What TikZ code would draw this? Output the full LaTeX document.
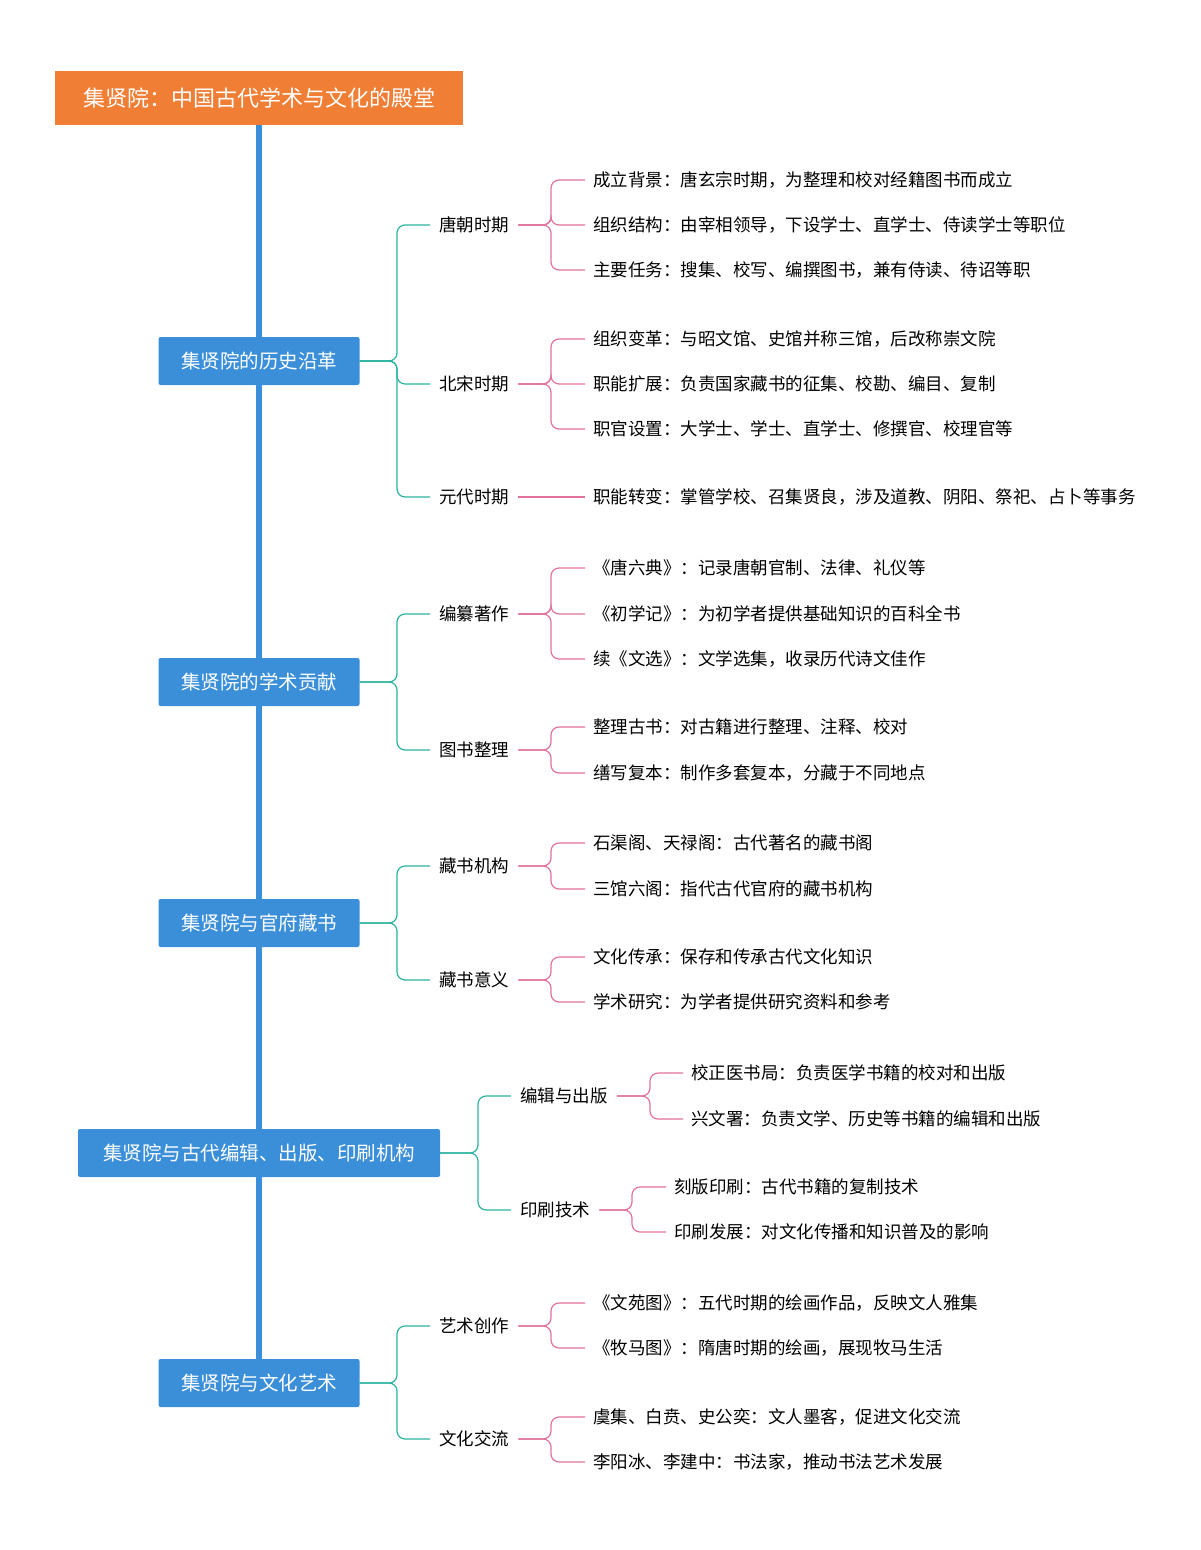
\documentclass[tikz,border=0pt]{standalone}
\usepackage{fontspec}
\setmainfont{Noto Sans CJK SC}
\definecolor{org}{HTML}{F07E35}
\definecolor{blu}{HTML}{3B8FD8}
\definecolor{tea}{HTML}{2BB3A0}
\definecolor{pnk}{HTML}{E0729C}
\tikzset{
 rootbox/.style={fill=org,text=white,minimum width=408,minimum height=54,inner sep=0,font=\fontsize{22}{26}\selectfont},
 l1box/.style={fill=blu,text=white,minimum width=201,minimum height=48,inner sep=0,rounded corners=2,font=\fontsize{19.5}{24}\selectfont},
 l2/.style={anchor=west,inner xsep=9,inner ysep=2,font=\fontsize{17.5}{21}\selectfont},
 lf/.style={anchor=west,inner xsep=8,inner ysep=2,font=\fontsize{17.5}{21}\selectfont},
 tl/.style={draw=tea,line width=1.2,rounded corners=8},
 pk/.style={draw=pnk,line width=1.2,rounded corners=8},
}
\begin{document}
\begin{tikzpicture}[x=1pt,y=-1pt]
\useasboundingbox (0,0) rectangle (1200,1550);
\draw[blu,line width=6] (259,125) -- (259,1360);
\node[rootbox] (root) at (259,98) {集贤院：中国古代学术与文化的殿堂};
\node[l1box] (b1) at (259,361) {集贤院的历史沿革};
\node[l1box] (b2) at (259,682) {集贤院的学术贡献};
\node[l1box] (b3) at (259,923) {集贤院与官府藏书};
\node[l1box,minimum width=362] (b4) at (259,1153) {集贤院与古代编辑、出版、印刷机构};
\node[l1box] (b5) at (259,1383) {集贤院与文化艺术};
\coordinate (t1) at (397,0);
\coordinate (t4) at (478,0);
\coordinate (p1) at (551,0);
\coordinate (p4a) at (650,0);
\coordinate (p4b) at (632,0);
% section 1
\node[l2] (a1) at (430,225) {唐朝时期};
\node[l2] (a2) at (430,384) {北宋时期};
\node[l2] (a3) at (430,497) {元代时期};
\node[lf] (a11) at (585,180) {成立背景：唐玄宗时期，为整理和校对经籍图书而成立};
\node[lf] (a12) at (585,225) {组织结构：由宰相领导，下设学士、直学士、侍读学士等职位};
\node[lf] (a13) at (585,270) {主要任务：搜集、校写、编撰图书，兼有侍读、待诏等职};
\node[lf] (a21) at (585,339) {组织变革：与昭文馆、史馆并称三馆，后改称崇文院};
\node[lf] (a22) at (585,384) {职能扩展：负责国家藏书的征集、校勘、编目、复制};
\node[lf] (a23) at (585,429) {职官设置：大学士、学士、直学士、修撰官、校理官等};
\node[lf] (a31) at (585,497) {职能转变：掌管学校、召集贤良，涉及道教、阴阳、祭祀、占卜等事务};
\foreach \c in {a1,a2,a3}{\draw[tl] (b1.east) -- (b1.east -| t1) |- (\c.west);}
\foreach \c in {a11,a12,a13}{\draw[pk] (a1.east) -- (a1.east -| p1) |- (\c.west);}
\foreach \c in {a21,a22,a23}{\draw[pk] (a2.east) -- (a2.east -| p1) |- (\c.west);}
\draw[pk] (a3.east) -- (a31.west);
% section 2
\node[l2] (c1) at (430,614) {编纂著作};
\node[l2] (c2) at (430,750) {图书整理};
\node[lf] (c11) at (585,568) {《唐六典》：记录唐朝官制、法律、礼仪等};
\node[lf] (c12) at (585,614) {《初学记》：为初学者提供基础知识的百科全书};
\node[lf] (c13) at (585,659) {续《文选》：文学选集，收录历代诗文佳作};
\node[lf] (c21) at (585,727) {整理古书：对古籍进行整理、注释、校对};
\node[lf] (c22) at (585,773) {缮写复本：制作多套复本，分藏于不同地点};
\foreach \c in {c1,c2}{\draw[tl] (b2.east) -- (b2.east -| t1) |- (\c.west);}
\foreach \c in {c11,c12,c13}{\draw[pk] (c1.east) -- (c1.east -| p1) |- (\c.west);}
\foreach \c in {c21,c22}{\draw[pk] (c2.east) -- (c2.east -| p1) |- (\c.west);}
% section 3
\node[l2] (d1) at (430,866) {藏书机构};
\node[l2] (d2) at (430,980) {藏书意义};
\node[lf] (d11) at (585,843) {石渠阁、天禄阁：古代著名的藏书阁};
\node[lf] (d12) at (585,889) {三馆六阁：指代古代官府的藏书机构};
\node[lf] (d21) at (585,957) {文化传承：保存和传承古代文化知识};
\node[lf] (d22) at (585,1002) {学术研究：为学者提供研究资料和参考};
\foreach \c in {d1,d2}{\draw[tl] (b3.east) -- (b3.east -| t1) |- (\c.west);}
\foreach \c in {d11,d12}{\draw[pk] (d1.east) -- (d1.east -| p1) |- (\c.west);}
\foreach \c in {d21,d22}{\draw[pk] (d2.east) -- (d2.east -| p1) |- (\c.west);}
% section 4
\node[l2] (e1) at (511,1096) {编辑与出版};
\node[l2] (e2) at (511,1210) {印刷技术};
\node[lf] (e11) at (683,1073) {校正医书局：负责医学书籍的校对和出版};
\node[lf] (e12) at (683,1119) {兴文署：负责文学、历史等书籍的编辑和出版};
\node[lf] (e21) at (666,1187) {刻版印刷：古代书籍的复制技术};
\node[lf] (e22) at (666,1232) {印刷发展：对文化传播和知识普及的影响};
\foreach \c in {e1,e2}{\draw[tl] (b4.east) -- (b4.east -| t4) |- (\c.west);}
\foreach \c in {e11,e12}{\draw[pk] (e1.east) -- (e1.east -| p4a) |- (\c.west);}
\foreach \c in {e21,e22}{\draw[pk] (e2.east) -- (e2.east -| p4b) |- (\c.west);}
% section 5
\node[l2] (f1) at (430,1326) {艺术创作};
\node[l2] (f2) at (430,1439) {文化交流};
\node[lf] (f11) at (585,1303) {《文苑图》：五代时期的绘画作品，反映文人雅集};
\node[lf] (f12) at (585,1348) {《牧马图》：隋唐时期的绘画，展现牧马生活};
\node[lf] (f21) at (585,1417) {虞集、白贲、史公奕：文人墨客，促进文化交流};
\node[lf] (f22) at (585,1462) {李阳冰、李建中：书法家，推动书法艺术发展};
\foreach \c in {f1,f2}{\draw[tl] (b5.east) -- (b5.east -| t1) |- (\c.west);}
\foreach \c in {f11,f12}{\draw[pk] (f1.east) -- (f1.east -| p1) |- (\c.west);}
\foreach \c in {f21,f22}{\draw[pk] (f2.east) -- (f2.east -| p1) |- (\c.west);}
\end{tikzpicture}
\end{document}
